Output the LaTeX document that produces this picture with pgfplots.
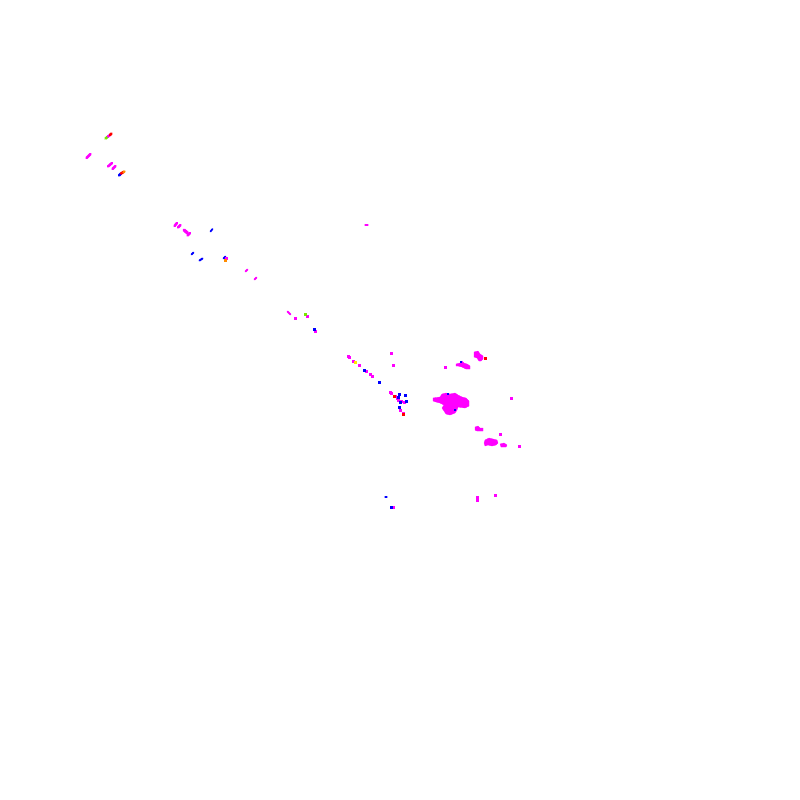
\documentclass[border=0pt]{standalone}
\usepackage{pgfplots}
\pgfplotsset{compat=1.18}
\definecolor{mg}{RGB}{255,0,255}
\definecolor{bl}{RGB}{0,0,255}
\definecolor{rd}{RGB}{255,0,0}
\definecolor{gr}{RGB}{120,230,0}
\definecolor{yl}{RGB}{255,230,0}
\definecolor{og}{RGB}{255,140,0}
\begin{document}
\begin{tikzpicture}
\begin{axis}[
  width=800bp, height=800bp, scale only axis,
  xmin=0, xmax=800, ymin=0, ymax=800, y dir=reverse,
  axis line style={draw=none}, xtick=\empty, ytick=\empty,
  axis background/.style={fill=white},
  streak/.style={line width=2.6bp, line cap=round},
  dot/.style={only marks, mark=square*, mark size=0.85bp},
]
% diagonal streaks
\addplot[streak, gr] coordinates {(105.5,138.5)(108,136.5)};
\addplot[streak, mg] coordinates {(108,136.5)(110,135)};
\addplot[streak, rd] coordinates {(110,135)(111.5,133.5)};
\addplot[streak, mg] coordinates {(86.5,158)(90.5,154)};
\addplot[streak, mg] coordinates {(108,166.5)(112,163)};
\addplot[streak, mg] coordinates {(112.5,169)(115.5,166)};
\addplot[streak, bl] coordinates {(119,175.5)(121,173.5)};
\addplot[streak, rd] coordinates {(121,173.5)(123.5,172)};
\addplot[streak, og] coordinates {(123.5,172)(124.5,171.5)};
\addplot[streak, mg] coordinates {(174.5,226)(177,223)};
\addplot[streak, mg] coordinates {(178,227.5)(180.5,225)};
\addplot[streak, mg, line width=3.2bp] coordinates {(184,230)(187.5,233)};
\addplot[streak, mg] coordinates {(187.5,235.5)(190,233)};
\addplot[streak, bl, line width=1.8bp] coordinates {(210.5,231.5)(212.5,229)};
\addplot[streak, bl, line width=2bp] coordinates {(191.5,254.5)(193.5,252.5)};
\addplot[streak, bl, line width=2bp] coordinates {(199.5,260.5)(202.5,258.5)};
\addplot[streak, bl, line width=2bp] coordinates {(223.5,258.5)(225.5,256.5)};
\addplot[streak, mg, line width=2bp] coordinates {(245.5,271.5)(247.5,269.5)};
\addplot[streak, mg, line width=2bp] coordinates {(254.5,279.5)(256.5,277.5)};
\addplot[streak, mg, line width=2bp] coordinates {(287.5,311.5)(290.5,314.5)};
\addplot[streak, mg, line width=1.2bp] coordinates {(365,225)(368,225)};
\addplot[streak, bl, line width=1.2bp] coordinates {(385,497)(387,497)};
% small dots
\addplot[dot, mg] coordinates {(226.5,258.5)(295,318)(307,316)(315.5,331)(348,356)(349.5,357.5)
  (353.5,361.5)(359,365)(366,371)(370,374)(372,376)(391,353)(393,365)
  (390,392)(391.5,393.5)(395,396)(397,398.5)(398,400)(401.5,401)(404.5,402)(400,410)(403,413)
  (393.5,507)(477.5,497.5)(477.5,500)(495,495)(445.5,367.5)(511,398)(500,434)(519,446)};
\addplot[dot, og] coordinates {(225,260)};
\addplot[dot, gr] coordinates {(305.5,314.5)};
\addplot[dot, bl] coordinates {(314,329)(364,370)(379,382)(399,394)(398,397)(405,395)(406,401)
  (400,402)(399,407)(391,507)};
\addplot[dot, yl] coordinates {(355,362.5)};
\addplot[dot, rd] coordinates {(394.5,396)(403.5,414)(485,358.5)};
% larger blobs
\addplot[fill=mg, draw=mg, line width=0.3bp] coordinates {(433,398)(440,397)(442,394)(446,393)(450,394)(455,393)
  (458,395)(462,397)(466,398)(469,401)(469,406)(465,408)(458,407)(457,410)(455,413)(450,415)
  (446,414)(444,411)(442,408)(444,405)(440,403)(436,402)(433,401)} -- cycle;
\addplot[dot, bl, mark size=0.6bp] coordinates {(448,394)(455,410)(461,362)};
\addplot[fill=mg, draw=mg, line width=0.3bp] coordinates {(474,352)(478,351)(480,354)(483,356)(483,359)(481,361)
  (479,361)(477,358)(474,357)} -- cycle;
\addplot[fill=mg, draw=mg, line width=0.3bp] coordinates {(456,364)(460,363)(462,361)(464,363)(467,364)(470,366)
  (470,369)(466,369)(462,367)(458,366)(456,366)} -- cycle;
\addplot[fill=mg, draw=mg, line width=0.3bp] coordinates {(475,427)(478,426)(480,428)(483,428)(483,431)(477,431)
  (475,430)} -- cycle;
\addplot[fill=mg, draw=mg, line width=0.3bp] coordinates {(485,440)(489,438)(493,439)(497,440)(498,443)(496,445)
  (492,446)(488,445)(485,446)(484,443)} -- cycle;
\addplot[fill=mg, draw=mg, line width=0.3bp] coordinates {(500,444)(504,443)(507,445)(506,447)(501,447)} -- cycle;
\end{axis}
\end{tikzpicture}
\end{document}
